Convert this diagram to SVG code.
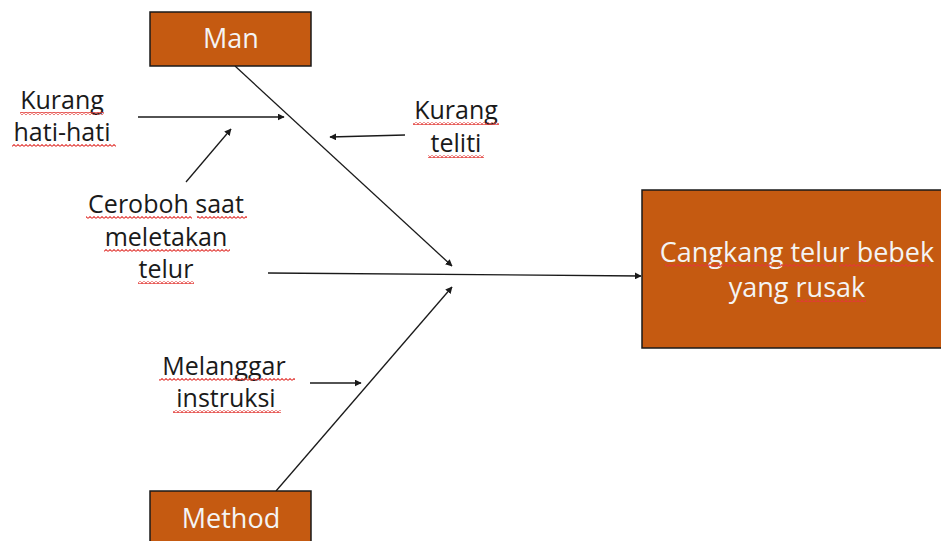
<svg xmlns="http://www.w3.org/2000/svg" width="941" height="541" viewBox="0 0 941 541">
<style>
.box{fill:#C55A11;stroke:#1a1a1a;stroke-width:1.5}
.bt{font-family:"Open Sans","Noto Sans",sans-serif;font-size:27px;fill:#f4f4f4;text-anchor:middle}
.lb{font-family:"Open Sans","Noto Sans",sans-serif;font-size:25px;fill:#1a1a1a;text-anchor:middle}
.ln{stroke:#1a1a1a;stroke-width:1.3;fill:none;marker-end:url(#ah)}
.sq{fill:url(#wave)}
</style>
<defs>
<marker id="ah" viewBox="0 0 10 10" refX="9" refY="5" markerWidth="7" markerHeight="7" markerUnits="userSpaceOnUse" orient="auto">
<path d="M0,0 L10,5 L0,10 z" fill="#1a1a1a"/>
</marker>
<pattern id="wave" width="4" height="3" patternUnits="userSpaceOnUse">
<polyline points="0,2.4 2,0.6 4,2.4" fill="none" stroke="#e23a36" stroke-width="1.1"/>
</pattern>
</defs>
<g id="connectors">
<path class="ln" d="M268,273 L641,276"/>
<path class="ln" d="M235,66 L452,266"/>
<path class="ln" d="M276,491 L452,287"/>
<path class="ln" d="M138,117 L284,117"/>
<path class="ln" d="M186,182 L231,129"/>
<path class="ln" d="M405,135 L330,137"/>
<path class="ln" d="M310,383 L361,383"/>
</g>
<g id="man">
<rect class="box" x="150" y="12" width="161" height="54"/>
<text class="bt" x="231" y="48">Man</text>
</g>
<g id="method">
<rect class="box" x="150" y="491" width="161" height="60"/>
<text class="bt" x="231" y="528">Method</text>
</g>
<g id="effect">
<rect class="box" x="642" y="190" width="310" height="158"/>
<text class="bt" x="797" y="262" font-size="23">Cangkang telur bebek</text>
<text class="bt" x="797" y="297" font-size="23">yang rusak</text>
<rect class="sq" x="665" y="264" width="108" height="3"/>
<rect class="sq" x="779" y="264" width="54" height="3"/>
<rect class="sq" x="839" y="264" width="90" height="3"/>
<rect class="sq" x="796" y="299" width="70" height="3"/>
</g>
<g id="kurang-hati-hati">
<text class="lb" x="62" y="109">Kurang</text>
<text class="lb" x="62" y="141">hati-hati</text>
<rect class="sq" x="20" y="112" width="84" height="3"/>
<rect class="sq" x="12" y="144" width="104" height="3"/>
</g>
<g id="kurang-teliti">
<text class="lb" x="456" y="119">Kurang</text>
<text class="lb" x="456" y="152">teliti</text>
<rect class="sq" x="413" y="122" width="86" height="3"/>
<rect class="sq" x="428" y="155" width="56" height="3"/>
</g>
<g id="ceroboh">
<text class="lb" x="166" y="213">Ceroboh saat</text>
<text class="lb" x="166" y="246">meletakan</text>
<text class="lb" x="166" y="278">telur</text>
<rect class="sq" x="86" y="216" width="106" height="3"/>
<rect class="sq" x="197" y="216" width="50" height="3"/>
<rect class="sq" x="104" y="249" width="126" height="3"/>
<rect class="sq" x="138" y="281" width="56" height="3"/>
</g>
<g id="melanggar">
<text class="lb" x="224" y="375">Melanggar</text>
<text class="lb" x="226" y="407">instruksi</text>
<rect class="sq" x="159" y="378" width="136" height="3"/>
<rect class="sq" x="173" y="410" width="108" height="3"/>
</g>
</svg>
